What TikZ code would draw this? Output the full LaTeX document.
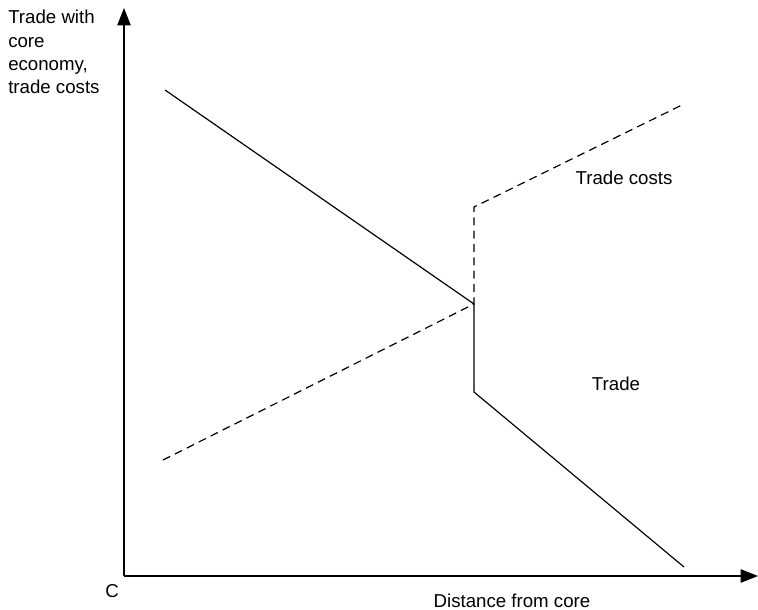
\documentclass[tikz,border=0pt]{standalone}
\usepackage{fontspec}
\setmainfont{Liberation Sans}
\usetikzlibrary{arrows.meta}
\begin{document}
\begin{tikzpicture}[x=0.75pt,y=-0.75pt,
  axis/.style={line width=1.1pt,-{Triangle[length=13pt,width=10pt]}},
  curve/.style={line width=0.9pt},
  costs/.style={line width=0.9pt,dash pattern=on 6pt off 4pt},
  lbl/.style={font=\fontsize{14}{17.5}\selectfont,inner sep=0pt}]
\useasboundingbox (0,0) rectangle (758,610);
% axes
\coordinate (O) at (124,576);
\coordinate (ytop) at (124,8);
\coordinate (xend) at (758,576);
\draw[axis] (O) -- (ytop);
\draw[axis] (O) -- (xend);
% trade: falls, drops at the border, falls again
\coordinate (t0) at (165,90);
\coordinate (t1) at (474,304);
\coordinate (t2) at (474,392);
\coordinate (t3) at (684,567);
\draw[curve] (t0) -- (t1) -- (t2) -- (t3);
% trade costs: rise, jump at the border, rise again
\coordinate (c0) at (163,460);
\coordinate (c1) at (474,304);
\coordinate (c2) at (474,207);
\coordinate (c3) at (684,104);
\draw[costs] (c0) -- (c1) -- (c2) -- (c3);
% labels
\node[lbl,anchor=north west,align=left] (ylab) at (8,10) {Trade with\\core\\economy,\\trade costs};
\node[lbl] (origin) at (112,591) {C};
\node[lbl,anchor=south] (xlab) at (512,608) {Distance from core};
\node[lbl] (tclab) at (624,178) {Trade costs};
\node[lbl] (trlab) at (616,384) {Trade};
\end{tikzpicture}
\end{document}
